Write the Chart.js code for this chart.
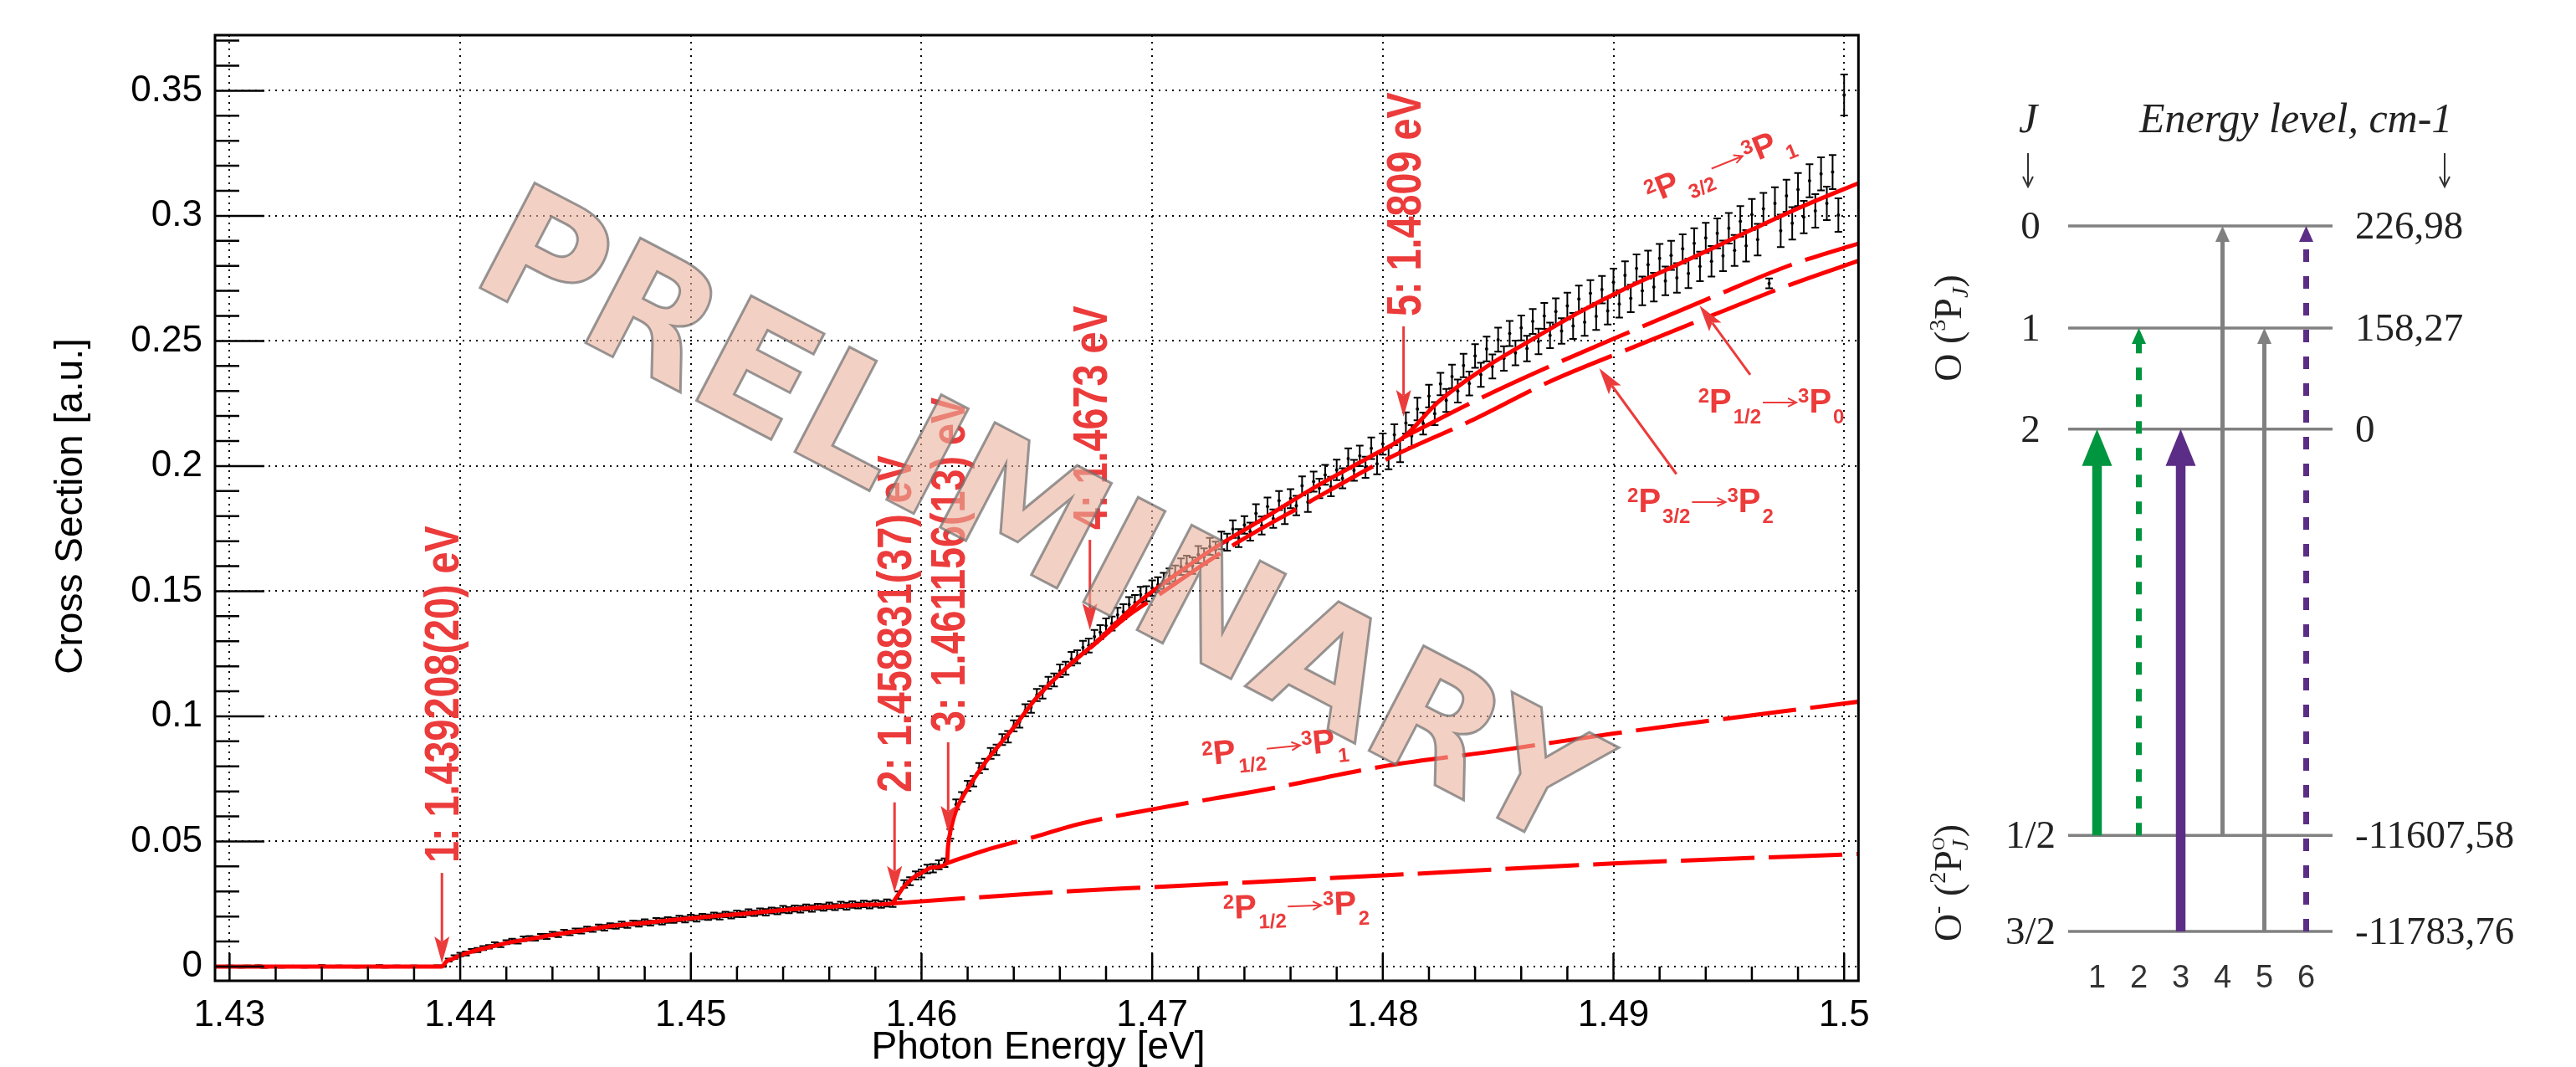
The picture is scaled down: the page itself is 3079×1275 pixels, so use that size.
<!DOCTYPE html>
<html>
<head>
<meta charset="utf-8">
<title>Photodetachment cross section</title>
<script src="https://cdn.jsdelivr.net/npm/chart.js@4.4.1/dist/chart.umd.min.js"></script>
<style>
  html, body { margin: 0; padding: 0; background: #fff; }
  #wrap { position: relative; width: 3079px; height: 1275px; overflow: hidden; }
  #spectrum { position: absolute; left: 0; top: 0; }
  #levels { position: absolute; left: 2250px; top: 0; }
</style>
</head>
<body>
<div id="wrap">
  <canvas id="spectrum" width="2250" height="1275"></canvas>
  <canvas id="levels" width="829" height="1275"></canvas>
</div>
<script>
// Binning du spectre mesuré (eV)
const binStart = 1.43;
const binWidth = 0.00025;

// Section efficace mesurée [u.a.], une valeur par bin
const crossSection = [
  0.0001, 0.0000, -0.0001, 0.0001, 0.0000, 0.0002, -0.0001, 0.0000, 0.0001, -0.0001,
  0.0000, 0.0001, 0.0000, -0.0001, 0.0001, 0.0000, 0.0002, 0.0000, -0.0001, 0.0001,
  0.0000, 0.0001, -0.0001, 0.0000, 0.0001, 0.0000, 0.0002, -0.0001, 0.0000, 0.0001,
  0.0000, -0.0001, 0.0001, 0.0000, 0.0001, 0.0000, 0.0001, 0.0002, 0.0026, 0.0038,
  0.0048, 0.0052, 0.0063, 0.0066, 0.0074, 0.0079, 0.0088, 0.0086, 0.0097, 0.0102,
  0.0100, 0.0111, 0.0113, 0.0112, 0.0121, 0.0120, 0.0130, 0.0127, 0.0137, 0.0134,
  0.0143, 0.0142, 0.0150, 0.0148, 0.0158, 0.0155, 0.0163, 0.0161, 0.0169, 0.0165,
  0.0174, 0.0171, 0.0178, 0.0174, 0.0183, 0.0180, 0.0186, 0.0185, 0.0192, 0.0188,
  0.0196, 0.0192, 0.0200, 0.0197, 0.0204, 0.0200, 0.0208, 0.0204, 0.0211, 0.0209,
  0.0217, 0.0213, 0.0220, 0.0217, 0.0224, 0.0221, 0.0229, 0.0225, 0.0232, 0.0229,
  0.0236, 0.0232, 0.0239, 0.0236, 0.0243, 0.0238, 0.0246, 0.0241, 0.0248, 0.0244,
  0.0250, 0.0246, 0.0252, 0.0248, 0.0254, 0.0251, 0.0285, 0.0330, 0.0341, 0.0364,
  0.0372, 0.0390, 0.0393, 0.0407, 0.0415, 0.0530, 0.0648, 0.0678, 0.0722, 0.0741,
  0.0793, 0.0809, 0.0852, 0.0866, 0.0907, 0.0918, 0.0962, 0.0978, 0.1024, 0.1037,
  0.1085, 0.1096, 0.1134, 0.1145, 0.1182, 0.1192, 0.1230, 0.1238, 0.1275, 0.1283,
  0.1318, 0.1336, 0.1362, 0.1371, 0.1405, 0.1418, 0.1447, 0.1455, 0.1486, 0.1490,
  0.1512, 0.1526, 0.1541, 0.1560, 0.1571, 0.1598, 0.1610, 0.1602, 0.1646, 0.1638,
  0.1679, 0.1665, 0.1703, 0.1696, 0.1748, 0.1712, 0.1765, 0.1738, 0.1811, 0.1762,
  0.1838, 0.1790, 0.1862, 0.1805, 0.1870, 0.1842, 0.1921, 0.1856, 0.1938, 0.1911,
  0.1965, 0.1918, 0.1985, 0.1951, 0.2030, 0.1983, 0.2041, 0.1995, 0.2071, 0.2009,
  0.2088, 0.2030, 0.2125, 0.2060, 0.2172, 0.2120, 0.2228, 0.2170, 0.2280, 0.2210,
  0.2328, 0.2262, 0.2358, 0.2300, 0.2402, 0.2330, 0.2440, 0.2365, 0.2468, 0.2398,
  0.2505, 0.2430, 0.2530, 0.2452, 0.2552, 0.2470, 0.2578, 0.2498, 0.2600, 0.2522,
  0.2618, 0.2540, 0.2640, 0.2560, 0.2668, 0.2575, 0.2690, 0.2598, 0.2705, 0.2620,
  0.2735, 0.2648, 0.2762, 0.2670, 0.2790, 0.2700, 0.2805, 0.2715, 0.2830, 0.2740,
  0.2842, 0.2752, 0.2868, 0.2770, 0.2890, 0.2798, 0.2912, 0.2818, 0.2930, 0.2840,
  0.2950, 0.2862, 0.2978, 0.2880, 0.3005, 0.2905, 0.3028, 0.2730, 0.3050, 0.2940,
  0.3080, 0.2970, 0.3105, 0.2995, 0.3140, 0.3020, 0.3168, 0.3050, 0.3175, 0.3003,
  0.3483
];

// Erreurs statistiques (barres d'erreur)
const crossSectionErr = [
  0.0003, 0.0002, 0.0003, 0.0003, 0.0002, 0.0003, 0.0004, 0.0003, 0.0002, 0.0003,
  0.0003, 0.0002, 0.0003, 0.0003, 0.0002, 0.0003, 0.0004, 0.0003, 0.0002, 0.0003,
  0.0003, 0.0002, 0.0003, 0.0003, 0.0002, 0.0003, 0.0004, 0.0003, 0.0002, 0.0003,
  0.0003, 0.0002, 0.0003, 0.0003, 0.0002, 0.0003, 0.0004, 0.0003, 0.0006, 0.0007,
  0.0007, 0.0008, 0.0007, 0.0008, 0.0008, 0.0007, 0.0009, 0.0008, 0.0008, 0.0009,
  0.0008, 0.0009, 0.0009, 0.0008, 0.0009, 0.0010, 0.0009, 0.0009, 0.0010, 0.0009,
  0.0009, 0.0010, 0.0010, 0.0009, 0.0010, 0.0011, 0.0010, 0.0010, 0.0011, 0.0010,
  0.0010, 0.0011, 0.0011, 0.0010, 0.0011, 0.0012, 0.0011, 0.0010, 0.0011, 0.0012,
  0.0011, 0.0012, 0.0011, 0.0011, 0.0012, 0.0012, 0.0011, 0.0012, 0.0013, 0.0012,
  0.0012, 0.0011, 0.0012, 0.0013, 0.0012, 0.0012, 0.0013, 0.0012, 0.0012, 0.0013,
  0.0012, 0.0013, 0.0012, 0.0013, 0.0013, 0.0012, 0.0013, 0.0014, 0.0013, 0.0012,
  0.0013, 0.0014, 0.0013, 0.0013, 0.0014, 0.0013, 0.0015, 0.0015, 0.0016, 0.0016,
  0.0016, 0.0017, 0.0017, 0.0018, 0.0017, 0.0019, 0.0020, 0.0019, 0.0020, 0.0021,
  0.0020, 0.0021, 0.0022, 0.0021, 0.0022, 0.0023, 0.0022, 0.0023, 0.0024, 0.0023,
  0.0024, 0.0025, 0.0024, 0.0026, 0.0025, 0.0026, 0.0027, 0.0026, 0.0027, 0.0028,
  0.0027, 0.0028, 0.0029, 0.0028, 0.0029, 0.0030, 0.0029, 0.0030, 0.0031, 0.0030,
  0.0031, 0.0030, 0.0032, 0.0031, 0.0032, 0.0033, 0.0032, 0.0033, 0.0034, 0.0033,
  0.0034, 0.0033, 0.0035, 0.0034, 0.0035, 0.0036, 0.0035, 0.0036, 0.0037, 0.0036,
  0.0036, 0.0037, 0.0038, 0.0037, 0.0038, 0.0039, 0.0038, 0.0039, 0.0040, 0.0039,
  0.0040, 0.0039, 0.0041, 0.0040, 0.0041, 0.0042, 0.0041, 0.0042, 0.0043, 0.0042,
  0.0042, 0.0043, 0.0042, 0.0044, 0.0043, 0.0044, 0.0045, 0.0044, 0.0045, 0.0046,
  0.0045, 0.0046, 0.0047, 0.0046, 0.0047, 0.0048, 0.0047, 0.0048, 0.0049, 0.0048,
  0.0048, 0.0049, 0.0050, 0.0049, 0.0050, 0.0051, 0.0050, 0.0051, 0.0052, 0.0051,
  0.0052, 0.0051, 0.0053, 0.0052, 0.0053, 0.0054, 0.0053, 0.0054, 0.0055, 0.0054,
  0.0054, 0.0055, 0.0056, 0.0055, 0.0056, 0.0057, 0.0056, 0.0057, 0.0058, 0.0057,
  0.0058, 0.0059, 0.0058, 0.0059, 0.0060, 0.0059, 0.0060, 0.0061, 0.0060, 0.0061,
  0.0061, 0.0062, 0.0061, 0.0063, 0.0062, 0.0063, 0.0064, 0.0020, 0.0064, 0.0065,
  0.0064, 0.0065, 0.0066, 0.0065, 0.0066, 0.0067, 0.0066, 0.0067, 0.0068, 0.0067,
  0.0082
];

// Ajustement total (trait plein) : [énergie, section efficace]
const fitTotal = [
  [1.4290, 0.0], [1.4392, 0.0], [1.4394, 0.0020], [1.4397, 0.0032], [1.4400, 0.0045],
  [1.4405, 0.0060], [1.4410, 0.0072], [1.4420, 0.0094], [1.4430, 0.0110], [1.4440, 0.0126],
  [1.4450, 0.0140], [1.4465, 0.0161], [1.4480, 0.0175], [1.4500, 0.0193], [1.4520, 0.0209],
  [1.4540, 0.0226], [1.4560, 0.0239], [1.4575, 0.0247], [1.4587, 0.0252], [1.4589, 0.0275],
  [1.4592, 0.0315], [1.4596, 0.0352], [1.4600, 0.0375], [1.4605, 0.0396], [1.4611, 0.0413],
  [1.46115, 0.0480], [1.4613, 0.0560], [1.4615, 0.0625], [1.4618, 0.0680], [1.4622, 0.0740],
  [1.4628, 0.0820], [1.4635, 0.0900], [1.4640, 0.0955], [1.4649, 0.1065], [1.4662, 0.1187],
  [1.4676, 0.1299], [1.4694, 0.1455], [1.4712, 0.1578], [1.4726, 0.1667], [1.4748, 0.1789],
  [1.4772, 0.1923], [1.4796, 0.2045], [1.4809, 0.2115], [1.4824, 0.2256], [1.4844, 0.2391],
  [1.4864, 0.2502], [1.4885, 0.2614], [1.4905, 0.2709], [1.4925, 0.2793], [1.4941, 0.2862],
  [1.4960, 0.2945], [1.4980, 0.3030], [1.5010, 0.3145]
];

// Contributions partielles (tirets)
const fitP12toP2 = [[1.4587, 0.0252], [1.4664, 0.0301], [1.4701, 0.0318], [1.4802, 0.0365], [1.4900, 0.0412], [1.5010, 0.0451]];
const fitP12toP1 = [[1.4611, 0.0413], [1.4627, 0.0463], [1.4649, 0.0518], [1.4668, 0.0569], [1.4701, 0.0630], [1.4750, 0.0709], [1.4802, 0.0803], [1.4851, 0.0864], [1.4900, 0.0931], [1.5010, 0.1063]];
const fitP32toP2 = [[1.4673, 0.1272], [1.4690, 0.1405], [1.4700, 0.1468], [1.4736, 0.1689], [1.4767, 0.1851], [1.4802, 0.2029], [1.4838, 0.2180], [1.4872, 0.2336], [1.4907, 0.2469], [1.4943, 0.2603], [1.4977, 0.2726], [1.5010, 0.2832]];
const fitP12toP0 = [[1.4809, 0.2115], [1.4843, 0.2274], [1.4872, 0.2397], [1.4907, 0.2536], [1.4943, 0.2676], [1.4977, 0.2804], [1.5010, 0.2900]];

// Seuils annotés
const thresholdEnergy = [1.439208, 1.458831, 1.461156, 1.4673, 1.4809];
const thresholdLabel = ['1: 1.439208(20) eV', '2: 1.458831(37) eV', '3: 1.461156(13) eV', '4: 1.4673 eV', '5: 1.4809 eV'];
const thresholdArrowTip = [0.0013, 0.0295, 0.0535, 0.1344, 0.2197];

// Graduations
const xTickValues = [1.43, 1.44, 1.45, 1.46, 1.47, 1.48, 1.49, 1.5];
const xTickLabels = ['1.43', '1.44', '1.45', '1.46', '1.47', '1.48', '1.49', '1.5'];
const yTickValues = [0, 0.05, 0.1, 0.15, 0.2, 0.25, 0.3, 0.35];
const yTickLabels = ['0', '0.05', '0.1', '0.15', '0.2', '0.25', '0.3', '0.35'];

// Schéma des niveaux d'énergie
const levelJ = ['0', '1', '2', '1/2', '3/2'];
const levelEnergy = ['226,98', '158,27', '0', '-11607,58', '-11783,76'];
const levelHeight = [6.91, 5.91, 4.92, 0.94, 0];
const transitionNumber = [1, 2, 3, 4, 5, 6];
const transitionLower = [3, 3, 4, 3, 4, 4];
const transitionUpper = [2, 1, 2, 0, 1, 0];

const photonEnergy = crossSection.map((_, i) => +(binStart + i * binWidth).toFixed(5));

const RED_TEXT = '#ec3b3b';
const SANS = '"Liberation Sans", Arial, Helvetica, sans-serif';
const SERIF = '"Liberation Serif", "Times New Roman", serif';

function toPoints(pairs) {
  return pairs.map(p => ({ x: p[0], y: p[1] }));
}

// Flèche pleine (pointe à tx, ty)
function arrowHead(ctx, fx, fy, tx, ty, len, half) {
  const a = Math.atan2(ty - fy, tx - fx);
  const c = Math.cos(a), s = Math.sin(a);
  ctx.beginPath();
  ctx.moveTo(tx, ty);
  ctx.lineTo(tx - len * c + half * s, ty - len * s - half * c);
  ctx.lineTo(tx - len * 0.8 * c, ty - len * 0.8 * s);
  ctx.lineTo(tx - len * c - half * s, ty - len * s + half * c);
  ctx.closePath();
  ctx.fill();
}

function arrow(ctx, fx, fy, tx, ty) {
  const a = Math.atan2(ty - fy, tx - fx);
  ctx.beginPath();
  ctx.moveTo(fx, fy);
  ctx.lineTo(tx - 26 * Math.cos(a), ty - 26 * Math.sin(a));
  ctx.stroke();
  arrowHead(ctx, fx, fy, tx, ty, 32, 9);
}

// Etiquette de canal : 2P_a -> 3P_b
function drawChannel(ctx, px, py, angle, lowSub, upSub, gap) {
  const main = 'bold 40px ' + SANS;
  const small = 'bold 24px ' + SANS;
  const parts = [
    { t: '2', f: small, dy: -12 },
    { t: 'P', f: main, dy: 0 },
    { t: lowSub, f: small, dy: 13, pre: gap },
    { arrow: 40, dy: -12, pre: 2 },
    { t: '3', f: small, dy: -12, pre: 2 },
    { t: 'P', f: main, dy: 0 },
    { t: upSub, f: small, dy: 13, pre: gap }
  ];
  ctx.save();
  ctx.translate(px, py);
  ctx.rotate(angle * Math.PI / 180);
  ctx.fillStyle = RED_TEXT;
  ctx.strokeStyle = RED_TEXT;
  ctx.textAlign = 'left';
  ctx.textBaseline = 'alphabetic';
  let cx = 0;
  parts.forEach(p => {
    cx += p.pre || 0;
    if (p.arrow) {
      ctx.lineWidth = 2;
      ctx.beginPath();
      ctx.moveTo(cx, p.dy);
      ctx.lineTo(cx + p.arrow, p.dy);
      ctx.moveTo(cx + p.arrow - 10, p.dy - 5);
      ctx.lineTo(cx + p.arrow, p.dy);
      ctx.lineTo(cx + p.arrow - 10, p.dy + 5);
      ctx.stroke();
      cx += p.arrow;
    } else {
      ctx.font = p.f;
      ctx.fillText(p.t, cx, p.dy);
      cx += ctx.measureText(p.t).width;
    }
  });
  ctx.restore();
}

// Texte composé (exposants, indices)
function richWidth(ctx, parts) {
  let w = 0;
  parts.forEach(p => {
    ctx.font = p.f;
    if (!p.stay) w += ctx.measureText(p.t).width;
  });
  return w;
}

function drawRich(ctx, parts, x0, y0) {
  let cx = x0;
  parts.forEach(p => {
    ctx.font = p.f;
    ctx.fillText(p.t, cx, y0 + (p.dy || 0));
    if (!p.stay) cx += ctx.measureText(p.t).width;
  });
}

// Style ROOT : barres d'erreur, cadre, graduations, annotations
const rootStyle = {
  id: 'rootStyle',
  beforeDatasetsDraw(chart) {
    const { ctx, scales: { x, y } } = chart;
    ctx.save();
    ctx.strokeStyle = '#000';
    ctx.lineWidth = 2;
    ctx.beginPath();
    crossSection.forEach((v, i) => {
      const px = x.getPixelForValue(photonEnergy[i]);
      const top = y.getPixelForValue(v + crossSectionErr[i]);
      const bot = y.getPixelForValue(v - crossSectionErr[i]);
      ctx.moveTo(px, top); ctx.lineTo(px, bot);
      ctx.moveTo(px - 4.5, top); ctx.lineTo(px + 4.5, top);
      ctx.moveTo(px - 4.5, bot); ctx.lineTo(px + 4.5, bot);
    });
    ctx.stroke();
    ctx.restore();
  },
  afterDatasetsDraw(chart) {
    const { ctx, chartArea: area, scales: { x, y } } = chart;
    ctx.save();

    // Seuils : flèches verticales et étiquettes
    ctx.fillStyle = RED_TEXT;
    ctx.strokeStyle = RED_TEXT;
    ctx.lineWidth = 3;
    thresholdEnergy.forEach((e, i) => {
      const px = x.getPixelForValue(e);
      const tip = y.getPixelForValue(thresholdArrowTip[i]);
      const top = tip - 108;
      arrow(ctx, px, top, px, tip);
      ctx.save();
      ctx.translate(px, top - 12);
      ctx.rotate(-Math.PI / 2);
      ctx.scale(0.82, 1);
      ctx.font = 'bold 57px ' + SANS;
      ctx.textAlign = 'left';
      ctx.textBaseline = 'alphabetic';
      ctx.fillText(thresholdLabel[i], 0, 20);
      ctx.restore();
    });

    // Etiquettes des canaux
    drawChannel(ctx, x.getPixelForValue(1.49161), y.getPixelForValue(0.3047), -22, '3/2', '1', 8);
    drawChannel(ctx, x.getPixelForValue(1.49367), y.getPixelForValue(0.2214), 0, '1/2', '0', 2);
    drawChannel(ctx, x.getPixelForValue(1.49060), y.getPixelForValue(0.1816), 0, '3/2', '2', 2);
    drawChannel(ctx, x.getPixelForValue(1.47222), y.getPixelForValue(0.0803), -6, '1/2', '1', 2);
    drawChannel(ctx, x.getPixelForValue(1.47309), y.getPixelForValue(0.0191), -2, '1/2', '2', 2);
    ctx.fillStyle = RED_TEXT;
    ctx.strokeStyle = RED_TEXT;
    ctx.lineWidth = 3;
    arrow(ctx, x.getPixelForValue(1.49593), y.getPixelForValue(0.2365), x.getPixelForValue(1.49373), y.getPixelForValue(0.2642));
    arrow(ctx, x.getPixelForValue(1.49273), y.getPixelForValue(0.1968), x.getPixelForValue(1.48938), y.getPixelForValue(0.2391));

    // Cadre et graduations internes
    ctx.strokeStyle = '#000';
    ctx.lineWidth = 3;
    ctx.strokeRect(area.left, area.top, area.right - area.left, area.bottom - area.top);
    ctx.lineWidth = 2.5;
    ctx.beginPath();
    for (let k = 0; k <= 37; k++) {
      const py = y.getPixelForValue(k / 100);
      ctx.moveTo(area.left, py);
      ctx.lineTo(area.left + (k % 5 === 0 ? 59 : 29), py);
    }
    for (let k = 0; k <= 35; k++) {
      const px = x.getPixelForValue(1.43 + k * 0.002);
      ctx.moveTo(px, area.bottom);
      ctx.lineTo(px, area.bottom - (k % 5 === 0 ? 33 : 17));
    }
    ctx.stroke();

    // Titres des axes
    ctx.fillStyle = '#000';
    ctx.font = '46px ' + SANS;
    ctx.textAlign = 'center';
    ctx.textBaseline = 'alphabetic';
    ctx.fillText('Photon Energy [eV]', 1241, 1265);
    ctx.save();
    ctx.translate(98, 605);
    ctx.rotate(-Math.PI / 2);
    ctx.fillText('Cross Section [a.u.]', 0, 0);
    ctx.restore();

    // Filigrane
    ctx.save();
    ctx.translate(x.getPixelForValue(1.46405), y.getPixelForValue(0.1599));
    ctx.rotate(27.5 * Math.PI / 180);
    ctx.font = 'bold 194px "DejaVu Sans", sans-serif';
    ctx.textAlign = 'center';
    ctx.textBaseline = 'alphabetic';
    ctx.fillStyle = 'rgba(233, 177, 157, 0.6)';
    ctx.fillText('PRELIMINARY', 0, 0);
    ctx.lineWidth = 3;
    ctx.lineJoin = 'miter';
    ctx.strokeStyle = 'rgba(110, 110, 110, 0.7)';
    ctx.strokeText('PRELIMINARY', 0, 0);
    ctx.restore();

    ctx.restore();
  }
};

function dashed(pairs) {
  return {
    data: toPoints(pairs), showLine: true, borderColor: '#ff0000', borderWidth: 5,
    borderDash: [88, 17], pointRadius: 0, cubicInterpolationMode: 'monotone', order: 1
  };
}

new Chart(document.getElementById('spectrum').getContext('2d'), {
  type: 'scatter',
  data: {
    datasets: [
      { data: toPoints(fitTotal), showLine: true, borderColor: '#ff0000', borderWidth: 5, pointRadius: 0, cubicInterpolationMode: 'monotone', order: 0 },
      dashed(fitP12toP2),
      dashed(fitP12toP1),
      dashed(fitP32toP2),
      dashed(fitP12toP0),
      {
        data: photonEnergy.map((e, i) => ({ x: e, y: crossSection[i] })),
        pointRadius: 2, pointBackgroundColor: '#000', pointBorderWidth: 0, pointHoverRadius: 0, order: 3
      }
    ]
  },
  options: {
    responsive: false,
    animation: false,
    devicePixelRatio: 1,
    events: [],
    layout: { padding: { left: 0, right: 23, top: 42, bottom: 0 } },
    plugins: { legend: { display: false }, tooltip: { enabled: false } },
    scales: {
      x: {
        type: 'linear', min: 1.42937, max: 1.50062,
        afterBuildTicks: s => { s.ticks = xTickValues.map(v => ({ value: v })); },
        afterFit: s => { s.height = 103; },
        ticks: { callback: (v, i) => xTickLabels[i], color: '#000', font: { family: SANS, size: 44 }, padding: 15, maxRotation: 0, autoSkip: false },
        grid: { color: '#000', lineWidth: 2, drawTicks: false },
        border: { display: false, dash: [2, 6] }
      },
      y: {
        type: 'linear', min: -0.00569, max: 0.3722,
        afterBuildTicks: s => { s.ticks = yTickValues.map(v => ({ value: v })); },
        afterFit: s => { s.width = 257; },
        ticks: { callback: (v, i) => yTickLabels[i], color: '#000', font: { family: SANS, size: 44 }, padding: 15, autoSkip: false },
        grid: { color: '#000', lineWidth: 2, drawTicks: false },
        border: { display: false, dash: [2, 6] }
      }
    }
  },
  plugins: [rootStyle]
});

// ---- Schéma des niveaux ----
const transitionColor = ['#00953f', '#00953f', '#5b2d86', '#808080', '#808080', '#5b2d86'];
const transitionDashed = [false, true, false, false, false, true];
const transitionHeavy = [true, false, true, false, false, false];

const levelStyle = {
  id: 'levelStyle',
  afterDatasetsDraw(chart) {
    const { ctx, scales: { x, y } } = chart;
    ctx.save();

    // Pointes des flèches
    transitionNumber.forEach((n, k) => {
      const px = x.getPixelForValue(n);
      const tip = y.getPixelForValue(levelHeight[transitionUpper[k]]);
      const heavy = transitionHeavy[k];
      const len = heavy ? 44 : 19;
      const half = heavy ? 18 : 8.5;
      ctx.fillStyle = transitionColor[k];
      ctx.beginPath();
      ctx.moveTo(px, tip);
      ctx.lineTo(px + half, tip + len);
      ctx.lineTo(px - half, tip + len);
      ctx.closePath();
      ctx.fill();
    });

    // Numéros des transitions
    ctx.fillStyle = '#333';
    ctx.font = '38px ' + SANS;
    ctx.textAlign = 'center';
    ctx.textBaseline = 'middle';
    transitionNumber.forEach(n => ctx.fillText(String(n), x.getPixelForValue(n), y.getPixelForValue(-0.463)));

    // J et énergies
    ctx.fillStyle = '#222';
    ctx.font = '47px ' + SERIF;
    ctx.textBaseline = 'alphabetic';
    levelHeight.forEach((h, i) => {
      const py = y.getPixelForValue(h) + 15;
      ctx.textAlign = 'center';
      ctx.fillText(levelJ[i], x.getPixelForValue(-0.59), py);
      ctx.textAlign = 'left';
      ctx.fillText(levelEnergy[i], x.getPixelForValue(7.17), py);
    });

    // En-tête
    ctx.font = 'italic 50px ' + SERIF;
    ctx.textAlign = 'center';
    ctx.fillText('J', x.getPixelForValue(-0.65), y.getPixelForValue(7.828));
    ctx.textAlign = 'left';
    ctx.fillText('Energy level, cm-1', x.getPixelForValue(2.01), y.getPixelForValue(7.828));
    ctx.strokeStyle = '#333';
    ctx.lineWidth = 2;
    [-0.65, 9.31].forEach(v => {
      const px = x.getPixelForValue(v);
      const t = y.getPixelForValue(7.623);
      const b = y.getPixelForValue(7.295);
      ctx.beginPath();
      ctx.moveTo(px, t); ctx.lineTo(px, b);
      ctx.moveTo(px - 6, b - 12); ctx.lineTo(px, b); ctx.lineTo(px + 6, b - 12);
      ctx.stroke();
    });

    // Etats O(3PJ) et O-(2PJ)
    const big = '46px ' + SERIF;
    const sm = '28px ' + SERIF;
    const smi = 'italic 28px ' + SERIF;
    const upper = [
      { t: 'O', f: big }, { t: ' (', f: big }, { t: '3', f: sm, dy: -19 },
      { t: 'P', f: big }, { t: 'J', f: smi, dy: 8 }, { t: ')', f: big }
    ];
    const lower = [
      { t: 'O', f: big }, { t: '-', f: sm, dy: -20 }, { t: ' (', f: big }, { t: '2', f: sm, dy: -19 },
      { t: 'P', f: big }, { t: 'J', f: smi, dy: 8, stay: true }, { t: 'O', f: '22px ' + SERIF, dy: -20 }, { t: ')', f: big }
    ];
    ctx.fillStyle = '#222';
    ctx.textAlign = 'left';
    [[upper, 5.91], [lower, 0.475]].forEach(([parts, yc]) => {
      ctx.save();
      ctx.translate(x.getPixelForValue(-2.55), y.getPixelForValue(yc));
      ctx.rotate(-Math.PI / 2);
      const w = richWidth(ctx, parts);
      drawRich(ctx, parts, -w / 2, 15);
      ctx.restore();
    });

    ctx.restore();
  }
};

const levelDatasets = levelHeight.map(h => ({
  data: [{ x: 0.31, y: h }, { x: 6.63, y: h }],
  showLine: true, borderColor: '#808080', borderWidth: 3.5, pointRadius: 0, order: 2
}));
const transitionDatasets = transitionNumber.map((n, k) => ({
  data: [
    { x: n, y: levelHeight[transitionLower[k]] },
    { x: n, y: levelHeight[transitionUpper[k]] - (transitionHeavy[k] ? 0.33 : 0.13) }
  ],
  showLine: true,
  borderColor: transitionColor[k],
  borderWidth: transitionHeavy[k] ? 11.5 : (transitionDashed[k] ? 7 : 5),
  borderDash: transitionDashed[k] ? [15, 17] : [],
  borderCapStyle: 'butt',
  pointRadius: 0,
  order: 1
}));

new Chart(document.getElementById('levels').getContext('2d'), {
  type: 'scatter',
  data: { datasets: levelDatasets.concat(transitionDatasets) },
  options: {
    responsive: false,
    animation: false,
    devicePixelRatio: 1,
    events: [],
    layout: { padding: 0 },
    plugins: { legend: { display: false }, tooltip: { enabled: false } },
    scales: {
      x: { type: 'linear', min: -4.13, max: 12.45, display: false },
      y: { type: 'linear', min: -1.3279, max: 9.1230, display: false }
    }
  },
  plugins: [levelStyle]
});
</script>
</body>
</html>
